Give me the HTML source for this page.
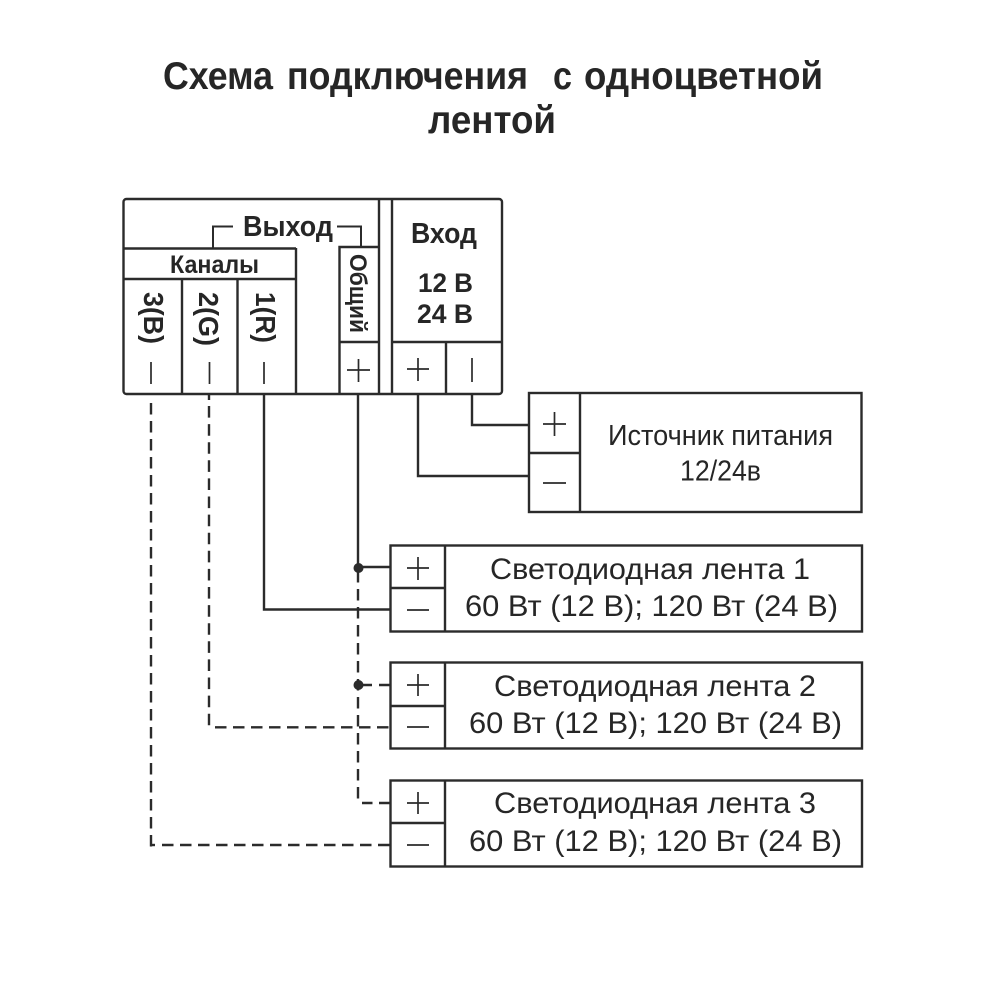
<!DOCTYPE html>
<html><head><meta charset="utf-8"><style>
html,body{margin:0;padding:0;background:#fff}
svg{display:block}
text{font-family:"Liberation Sans",sans-serif;fill:#262626;white-space:pre}
.b{font-weight:bold}
</style></head><body>
<svg width="1000" height="1000" viewBox="0 0 1000 1000" xmlns="http://www.w3.org/2000/svg">
<text class="b" x="163" y="89" font-size="38.500" textLength="110" lengthAdjust="spacingAndGlyphs">Схема</text>
<text class="b" x="287" y="89" font-size="38.500" textLength="241" lengthAdjust="spacingAndGlyphs">подключения</text>
<text class="b" x="553" y="89" font-size="38.500" textLength="19" lengthAdjust="spacingAndGlyphs">с</text>
<text class="b" x="584" y="89" font-size="38.500" textLength="239" lengthAdjust="spacingAndGlyphs">одноцветной</text>
<text class="b" x="428" y="133" font-size="38.500" textLength="128" lengthAdjust="spacingAndGlyphs">лентой</text>
<g fill="none" stroke="#2b2b2b" stroke-width="2.400">
<rect x="123.500" y="199" width="378.500" height="195" rx="3"/>
<path d="M379 199V394M392 199V394M123 248.500H296M123 279H296M182 279V394M237.500 279V394M296 248V394"/>
<path d="M339.500 394V247H379M339.500 342H379M392 342H502M446 342V394"/>
<path d="M213 248V226.500H233M337 226.500H361V247" stroke-width="2"/>
<rect x="529" y="393" width="332.500" height="119"/>
<path d="M580 393V512M529 453H580"/>
<rect x="390.500" y="545.500" width="471.500" height="86"/>
<path d="M445 545V631M390 588H445"/>
<rect x="390.500" y="662.500" width="471.500" height="86"/>
<path d="M445 662V748M390 706H445"/>
<rect x="390.500" y="780.500" width="471.500" height="86"/>
<path d="M445 780V866M390 823H445"/>
<path d="M358 394V567H390M264 394V609.500H390M472 394V425H529M418 394V476H529"/>
<g stroke-dasharray="11.500 6.500">
<path d="M151 403V846.500"/>
<path d="M209 395V400" stroke-dasharray="none"/>
<path d="M209 406V726" stroke-dasharray="11.600 6.500"/>
<path d="M358 571V798.500"/>
<path d="M215 727.300H390"/>
<path d="M162 845H390"/>
<path d="M361 685H372M379 685H390M362 803H372.500M379 803H390" stroke-dasharray="none"/>
</g>
<path d="M150 845H155"/>
</g>
<circle cx="358.500" cy="568" r="5" fill="#2b2b2b"/>
<circle cx="358.500" cy="685" r="5" fill="#2b2b2b"/>
<g fill="none" stroke="#2b2b2b" stroke-width="1.700">
<path d="M151 362V384M209.500 362V384M264 362V384"/>
<path d="M347 370H370M358.500 359V382"/>
<path d="M407 369H429M418 358V381"/>
<path d="M472 358V382"/>
<path d="M543 424H566M554.500 412V436M543 483H566"/>
<path d="M407 568H429M418 557V580M407 610H429"/>
<path d="M407 685H429M418 674V696M407 727H429"/>
<path d="M407 803H429M418 792V814M407 845H429"/>
</g>
<text class="b" x="243" y="236" font-size="29" textLength="90" lengthAdjust="spacingAndGlyphs">Выход</text>
<text class="b" x="411" y="243" font-size="29" textLength="66" lengthAdjust="spacingAndGlyphs">Вход</text>
<text class="b" x="418" y="292" font-size="27" textLength="55" lengthAdjust="spacingAndGlyphs">12 В</text>
<text class="b" x="417" y="323" font-size="27" textLength="56" lengthAdjust="spacingAndGlyphs">24 В</text>
<text class="b" x="170" y="273" font-size="25" textLength="89" lengthAdjust="spacingAndGlyphs">Каналы</text>
<text class="b" transform="translate(350,254) rotate(90)" font-size="24" textLength="79" lengthAdjust="spacingAndGlyphs">Общий</text>
<text class="b" transform="translate(144,292) rotate(90)" font-size="28" textLength="52" lengthAdjust="spacingAndGlyphs">3(B)</text>
<text class="b" transform="translate(199,292) rotate(90)" font-size="28" textLength="54" lengthAdjust="spacingAndGlyphs">2(G)</text>
<text class="b" transform="translate(256,292) rotate(90)" font-size="28" textLength="51" lengthAdjust="spacingAndGlyphs">1(R)</text>
<text x="608" y="445" font-size="29" textLength="225" lengthAdjust="spacingAndGlyphs">Источник питания</text>
<text x="680" y="480.500" font-size="29" textLength="81" lengthAdjust="spacingAndGlyphs">12/24в</text>
<text x="490" y="579" font-size="30" textLength="320" lengthAdjust="spacingAndGlyphs">Светодиодная лента 1</text>
<text x="465" y="616" font-size="30" textLength="373" lengthAdjust="spacingAndGlyphs">60 Вт (12 В); 120 Вт (24 В)</text>
<text x="494" y="696" font-size="30" textLength="322" lengthAdjust="spacingAndGlyphs">Светодиодная лента 2</text>
<text x="469" y="733" font-size="30" textLength="373" lengthAdjust="spacingAndGlyphs">60 Вт (12 В); 120 Вт (24 В)</text>
<text x="494" y="813" font-size="30" textLength="322" lengthAdjust="spacingAndGlyphs">Светодиодная лента 3</text>
<text x="469" y="851" font-size="30" textLength="373" lengthAdjust="spacingAndGlyphs">60 Вт (12 В); 120 Вт (24 В)</text>
</svg>
</body></html>
